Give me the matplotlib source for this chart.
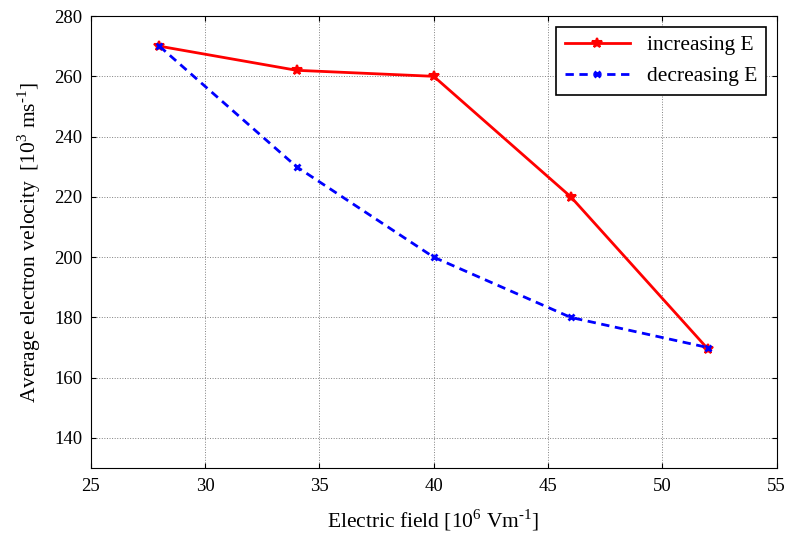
import matplotlib
matplotlib.use("Agg")
from matplotlib import pyplot as plt

field = [28, 34, 40, 46, 52]
v_increasing = [270, 262, 260, 220, 169.5]
v_decreasing = [270, 230, 200, 180, 170]

plt.rcParams['font.family'] = ['Liberation Serif', 'DejaVu Serif']
plt.rcParams['mathtext.fontset'] = 'custom'
plt.rcParams['mathtext.rm'] = 'Liberation Serif'

fig = plt.figure(figsize=(7.9, 5.35), dpi=100)
ax = fig.add_axes([0.115, 0.125, 0.868, 0.845])

ax.plot(field, v_increasing, color='red', lw=2, marker='*', ms=7, mew=1.5,
        label='increasing E')
ax.plot(field, v_decreasing, color='blue', lw=2, ls='--', dashes=(3, 2),
        marker='x', ms=5, mew=2, label='decreasing E')

ax.set_xlim(25, 55)
ax.set_ylim(130, 280)
ax.set_xticks(range(25, 56, 5))
ax.set_yticks(range(140, 281, 20))
ax.grid(True, color='#808080', ls=':', lw=0.7)
ax.tick_params(direction='in', top=True, right=True, labelsize=13.5, length=3.5)
ax.tick_params(axis='y', pad=6)
ax.tick_params(axis='x', pad=7)
for s in ax.spines.values():
    s.set_color('black')

ax.set_xlabel(r'Electric field [10$^{\mathrm{6}}$ Vm$^{\text{-}\mathrm{1}}$]',
              fontsize=15.5, labelpad=9)
ax.set_ylabel(r'Average electron velocity  [10$^{\mathrm{3}}$ ms$^{\text{-}\mathrm{1}}$]',
              fontsize=15.5, labelpad=8)

leg = ax.legend(loc='upper right', fontsize=15.5, fancybox=False,
                edgecolor='black', framealpha=1, handlelength=3,
                borderaxespad=0.5)
leg.get_frame().set_linewidth(1.2)

fig.savefig('out.png', dpi=100)
